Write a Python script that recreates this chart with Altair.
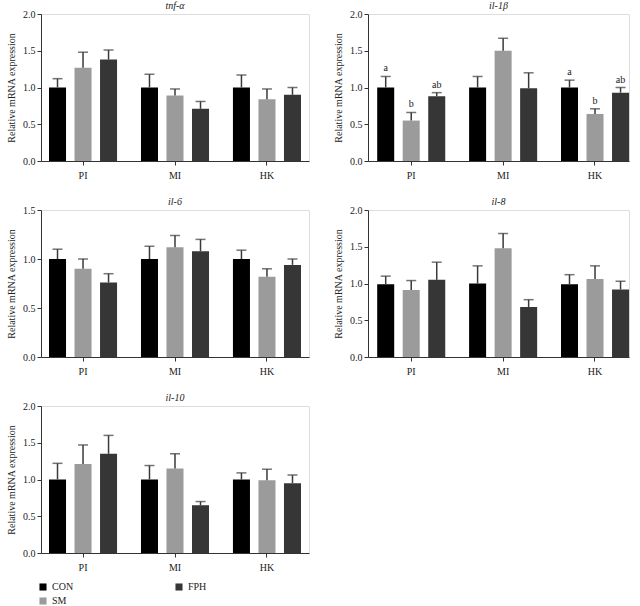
import altair as alt
import pandas as pd

genes = ["tnf-α", "il-1β", "il-6", "il-8", "il-10"]
tissues = ["PI", "MI", "HK"]
groups = ["CON", "SM", "FPH"]
group_colors = ["#000000", "#9b9b9b", "#363636"]

# values in tissue-major order: PI (CON, SM, FPH), MI (...), HK (...)
tnf_mean = [1.00, 1.27, 1.38, 1.00, 0.89, 0.71, 1.00, 0.84, 0.90]
tnf_top = [1.12, 1.48, 1.51, 1.18, 0.98, 0.81, 1.17, 0.98, 1.00]
il1b_mean = [1.00, 0.55, 0.88, 1.00, 1.50, 0.99, 1.00, 0.64, 0.93]
il1b_top = [1.15, 0.66, 0.93, 1.15, 1.67, 1.20, 1.10, 0.71, 1.00]
il6_mean = [1.00, 0.90, 0.76, 1.00, 1.12, 1.08, 1.00, 0.82, 0.94]
il6_top = [1.10, 1.00, 0.85, 1.13, 1.24, 1.20, 1.09, 0.90, 1.00]
il8_mean = [0.99, 0.91, 1.05, 1.00, 1.48, 0.68, 0.99, 1.06, 0.92]
il8_top = [1.10, 1.04, 1.29, 1.24, 1.68, 0.78, 1.12, 1.24, 1.03]
il10_mean = [1.00, 1.21, 1.35, 1.00, 1.15, 0.65, 1.00, 0.99, 0.95]
il10_top = [1.22, 1.47, 1.60, 1.19, 1.35, 0.70, 1.09, 1.14, 1.06]
il1b_letters = ["a", "b", "ab", "", "", "", "a", "b", "ab"]
no_letters = [""] * 9
y_max = [2.0, 2.0, 1.5, 2.0, 2.0]

means = [tnf_mean, il1b_mean, il6_mean, il8_mean, il10_mean]
tops = [tnf_top, il1b_top, il6_top, il8_top, il10_top]
letters = [no_letters, il1b_letters, no_letters, no_letters, no_letters]

SERIF = "Liberation Serif"
TXT = "#222222"
AX = "#333333"


def panel(i, width, pad_outer, align):
    rows = []
    k = 0
    for t in tissues:
        for g in groups:
            rows.append({"tissue": t, "group": g, "mean": means[i][k],
                         "top": tops[i][k], "letter": letters[i][k]})
            k += 1
    df = pd.DataFrame(rows)
    ym = y_max[i]
    yvals = [j * 0.5 for j in range(int(round(ym / 0.5)) + 1)]

    x = alt.X("tissue:N", sort=tissues,
              scale=alt.Scale(paddingInner=0.26, paddingOuter=pad_outer, align=align),
              axis=alt.Axis(title=None, labelAngle=0, labelFont=SERIF, labelFontSize=10,
                            labelColor=TXT, domainColor=AX, tickColor=AX, tickSize=4,
                            labelPadding=5, minExtent=25, maxExtent=25))
    xo = alt.XOffset("group:N", sort=groups,
                     scale=alt.Scale(paddingInner=0.333, paddingOuter=0))
    yscale = alt.Scale(domain=[0, ym], nice=False, zero=True)
    yaxis = alt.Axis(values=yvals, format=".1f", title="Relative mRNA expression",
                     titleFont=SERIF, titleFontSize=10, titleFontWeight="normal",
                     titleColor=TXT, labelFont=SERIF, labelFontSize=10,
                     labelColor=TXT, domainColor=AX, tickColor=AX, tickSize=4,
                     labelPadding=2, titlePadding=3, minExtent=22, maxExtent=22,
                     labelOverlap=False, grid=False)
    color = alt.Color("group:N",
                      scale=alt.Scale(domain=groups, range=group_colors),
                      legend=alt.Legend(title=None, orient="none", legendX=-3, legendY=568,
                                        columns=2, columnPadding=100, rowPadding=4,
                                        symbolType="square", symbolSize=50,
                                        symbolStrokeWidth=0, labelFont=SERIF,
                                        labelFontSize=10, labelColor=TXT))
    base = alt.Chart(df)
    bars = base.mark_bar().encode(
        x=x, xOffset=xo, y=alt.Y("mean:Q", scale=yscale, axis=yaxis), color=color)
    rules = base.mark_rule(color="#3a3a3a", strokeWidth=1.5).encode(
        x=x, xOffset=xo, y=alt.Y("mean:Q", scale=yscale, axis=yaxis), y2="top:Q")
    caps = base.mark_tick(color="#3a3a3a", thickness=1.5, size=10).encode(
        x=x, xOffset=xo, y=alt.Y("top:Q", scale=yscale, axis=yaxis))
    text = base.mark_text(baseline="bottom", dy=-3, font=SERIF, fontSize=10,
                          color=TXT).encode(
        x=x, xOffset=xo, y=alt.Y("top:Q", scale=yscale, axis=yaxis), text="letter:N")
    return alt.layer(bars, rules, caps, text).properties(
        width=width, height=147,
        title=alt.TitleParams(genes[i], font=SERIF, fontSize=10, fontStyle="italic",
                              fontWeight="normal", color=TXT, offset=0, dy=2,
                              anchor="middle"))


left = dict(width=268, pad_outer=0.087, align=0.5)
right = dict(width=261, pad_outer=0.05, align=1)

chart = alt.concat(
    panel(0, **left), panel(1, **right),
    panel(2, **left), panel(3, **right),
    panel(4, **left),
    columns=2, spacing={"row": 9, "column": 22},
).properties(
    padding={"left": 5, "top": 0, "right": 0, "bottom": 0}
).configure_view(stroke=None).configure(background="white")

chart.save("out.html", embed_options={"renderer": "svg", "actions": False})
